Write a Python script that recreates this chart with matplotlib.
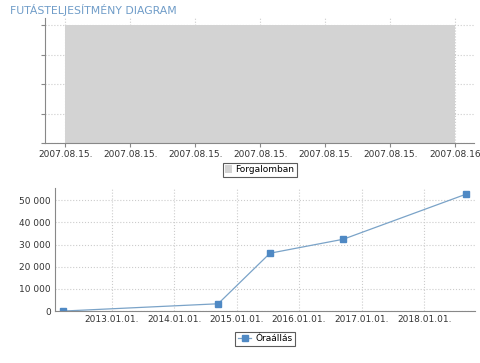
import numpy as np
import matplotlib.pyplot as plt
import matplotlib.dates as mdates
from datetime import datetime

# top chart data (one day, status "Forgalomban")
top_ticks = [0, 1, 2, 3, 4, 5, 6]
top_labels = ["2007.08.15."] * 6 + ["2007.08.16"]
top_x = [0, 6]
top_y = [1, 1]

# bottom chart data (odometer readings)
dates = [datetime(2012, 3, 20), datetime(2014, 9, 15), datetime(2015, 7, 15),
         datetime(2016, 9, 15), datetime(2018, 9, 5)]
values = [0, 3300, 26100, 32400, 52800]
year_ticks = [datetime(y, 1, 1) for y in range(2013, 2019)]

txt = '#333333'
grid_c = '#cccccc'
plt.rcParams['font.family'] = 'DejaVu Sans'
plt.rcParams['font.size'] = 6.5

fig = plt.figure(figsize=(4.8, 3.63), dpi=100)
fig.text(0.02, 0.972, "FUTÁSTELJESÍTMÉNY DIAGRAM", color='#6f9cc8', fontsize=7.8,
         va='center', ha='left')

ax1 = fig.add_axes([0.094, 0.606, 0.894, 0.344])
ax1.fill_between(top_x, 0, top_y, color='#d3d3d3', lw=0, label='Forgalomban')
ax1.set_xlim(-0.31, 6.29)
ax1.set_ylim(0, 1.06)
ax1.set_xticks(top_ticks)
ax1.set_xticklabels(top_labels, color=txt)
ax1.set_yticks([0, 0.25, 0.5, 0.75, 1])
ax1.set_yticklabels([])
ax1.grid(True, ls=':', color=grid_c, lw=0.8)
ax1.set_axisbelow(True)
for s in ['top', 'right']:
    ax1.spines[s].set_visible(False)
for s in ['left', 'bottom']:
    ax1.spines[s].set_color('#888888')
ax1.tick_params(length=3, color='#888888', pad=2)
ax1.legend(loc='upper center', bbox_to_anchor=(0.5, -0.12), frameon=True, fancybox=False,
           edgecolor='#333333', handlelength=0.7, handleheight=1.0, borderpad=0.3,
           handletextpad=0.4).get_frame().set_linewidth(0.8)

ax2 = fig.add_axes([0.1146, 0.143, 0.875, 0.339])
ax2.plot(dates, values, color='#7aa3c8', lw=0.9, marker='s', ms=5,
         mfc='#4f89c4', mec='#4f89c4', label='Óraállás')
ax2.set_xlim(datetime(2012, 2, 5), datetime(2018, 10, 25))
ax2.set_ylim(0, 55500)
ax2.set_xticks(year_ticks)
ax2.xaxis.set_major_formatter(mdates.DateFormatter('%Y.%m.%d.'))
ax2.set_yticks([0, 10000, 20000, 30000, 40000, 50000])
ax2.set_yticklabels(['{:,}'.format(v).replace(',', ' ') for v in ax2.get_yticks().astype(int)])
ax2.tick_params(colors=txt, length=0, pad=3)
ax2.grid(True, ls=':', color=grid_c, lw=0.8)
for s in ['top', 'right']:
    ax2.spines[s].set_visible(False)
for s in ['left', 'bottom']:
    ax2.spines[s].set_color('#888888')
ax2.legend(loc='upper center', bbox_to_anchor=(0.5, -0.13), frameon=True, fancybox=False,
           edgecolor='#333333', handlelength=1.5, borderpad=0.3,
           handletextpad=0.4).get_frame().set_linewidth(0.8)

fig.savefig('out.png', dpi=100)
